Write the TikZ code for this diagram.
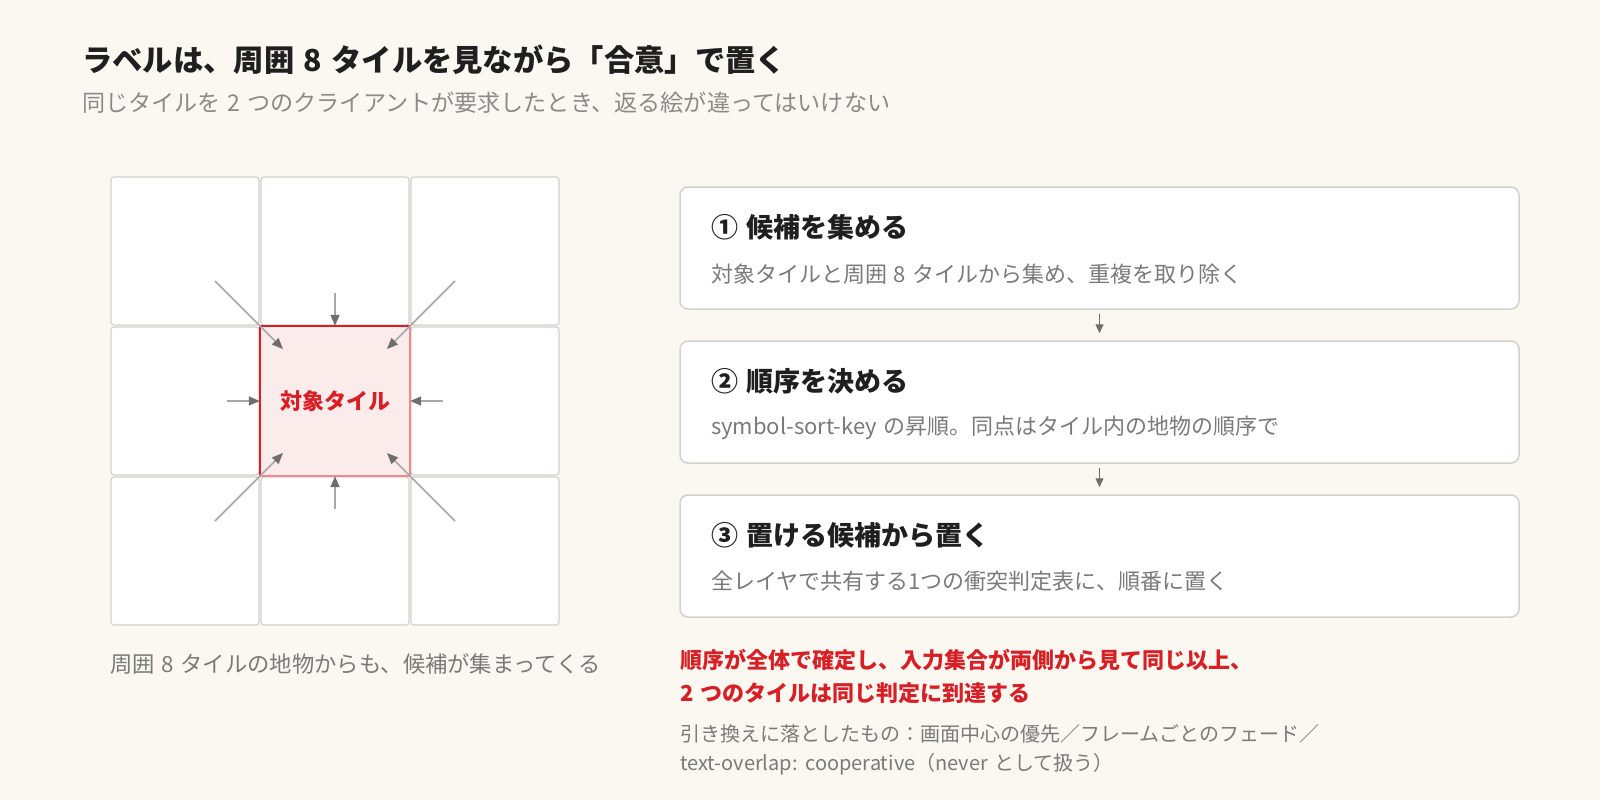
\documentclass[tikz,border=0pt]{standalone}
\usepackage{fontspec}
\setmainfont{Noto Sans CJK JP}[WordSpace=1.35]
\usetikzlibrary{arrows.meta}
\definecolor{bg}{HTML}{FAF8F1}
\definecolor{ink}{HTML}{1F1F1F}
\definecolor{subc}{HTML}{8A8A8A}
\definecolor{descc}{HTML}{7A7A7A}
\definecolor{accent}{HTML}{D91F26}
\definecolor{accentlight}{HTML}{EC8A8E}
\definecolor{pinkfill}{HTML}{FCEBEB}
\definecolor{cellline}{HTML}{D3D1CC}
\definecolor{arrline}{HTML}{A8A8A8}
\definecolor{arrhead}{HTML}{6E6E6E}
\begin{document}
\begin{tikzpicture}[x=1pt,y=-1pt,
  cell/.style={draw=cellline, line width=1.2pt, fill=white, rounded corners=3pt,
    minimum width=148pt, minimum height=148pt, inner sep=0pt},
  target/.style={fill=pinkfill, minimum width=150pt, minimum height=150pt, inner sep=0pt,
    text=accent, font=\fontsize{22}{26}\selectfont\bfseries},
  stepbox/.style={draw=cellline, line width=1.5pt, fill=white, rounded corners=8pt,
    minimum width=839pt, minimum height=122pt, inner sep=0pt},
  inarrow/.style={draw=arrline, line width=1.5pt, -{Triangle[length=11pt,width=9pt,color=arrhead]}},
  flowarrow/.style={draw=arrhead, line width=1.4pt, -{Triangle[length=9pt,width=8pt]},
    shorten <=4pt, shorten >=7pt},
  txt/.style={anchor=west, inner sep=0pt},
  titletxt/.style={txt, text=ink, font=\fontsize{30.3}{36}\selectfont\bfseries},
  subtxt/.style={txt, text=subc, font=\fontsize{23.1}{28}\selectfont},
  steptitle/.style={txt, text=ink, font=\fontsize{27}{32}\selectfont\bfseries},
  stepdesc/.style={txt, text=descc, font=\fontsize{22}{26}\selectfont},
  redtxt/.style={txt, text=accent, font=\fontsize{22}{26}\selectfont\bfseries},
  notetxt/.style={txt, text=descc, font=\fontsize{20}{24}\selectfont}
]
\fill[bg] (0,0) rectangle (1600,800);
\useasboundingbox (0,0) rectangle (1600,800);

% header
\node[titletxt] (title) at (82,60) {ラベルは、周囲 8 タイルを見ながら「合意」で置く};
\node[subtxt] (subtitle) at (82,103) {同じタイルを 2 つのクライアントが要求したとき、返る絵が違ってはいけない};

% grid of tiles
\node[cell] (c11) at (185,251) {};
\node[cell] (c12) at (335,251) {};
\node[cell] (c13) at (485,251) {};
\node[cell] (c21) at (185,401) {};
\node[cell] (c23) at (485,401) {};
\node[cell] (c31) at (185,551) {};
\node[cell] (c32) at (335,551) {};
\node[cell] (c33) at (485,551) {};
\node[target] (ct) at (335,401) {対象タイル};
\draw[accent, line width=2pt] (ct.south west) -- (ct.north west) -- (ct.north east);
\draw[accentlight, line width=1.5pt] (ct.north east) -- (ct.south east) -- (ct.south west);

% incoming arrows
\coordinate (aN) at (335,293);
\coordinate (aS) at (335,509);
\coordinate (aW) at (227,401);
\coordinate (aE) at (443,401);
\coordinate (aNW) at (215,281);
\coordinate (aNE) at (455,281);
\coordinate (aSW) at (215,521);
\coordinate (aSE) at (455,521);
\coordinate (tNW) at (283,349);
\coordinate (tNE) at (387,349);
\coordinate (tSW) at (283,453);
\coordinate (tSE) at (387,453);
\draw[inarrow] (aN) -- (ct.north);
\draw[inarrow] (aS) -- (ct.south);
\draw[inarrow] (aW) -- (ct.west);
\draw[inarrow] (aE) -- (ct.east);
\draw[inarrow] (aNW) -- (tNW);
\draw[inarrow] (aNE) -- (tNE);
\draw[inarrow] (aSW) -- (tSW);
\draw[inarrow] (aSE) -- (tSE);

\node[txt, text=descc, font=\fontsize{22.3}{27}\selectfont] (caption) at (110,664)
  {周囲 8 タイルの地物からも、候補が集まってくる};

% steps
\node[stepbox] (s1) at (1099.5,248) {};
\node[stepbox] (s2) at (1099.5,402) {};
\node[stepbox] (s3) at (1099.5,556) {};
\draw[flowarrow] (s1.south) -- (s2.north);
\draw[flowarrow] (s2.south) -- (s3.north);

\node[steptitle] (s1t) at (711,227) {① 候補を集める};
\node[stepdesc] (s1d) at (711,274) {対象タイルと周囲 8 タイルから集め、重複を取り除く};
\node[steptitle] (s2t) at (711,381) {② 順序を決める};
\node[stepdesc] (s2d) at (711,428) {symbol-sort-key の昇順。同点はタイル内の地物の順序で};
\node[steptitle] (s3t) at (711,535) {③ 置ける候補から置く};
\node[stepdesc] (s3d) at (711,581) {全レイヤで共有する1つの衝突判定表に、順番に置く};

% conclusion
\node[redtxt] (r1) at (680,660) {順序が全体で確定し、入力集合が両側から見て同じ以上、};
\node[redtxt] (r2) at (680,693) {2 つのタイルは同じ判定に到達する};
\node[notetxt] (n1) at (680,734) {引き換えに落としたもの：画面中心の優先／フレームごとのフェード／};
\node[notetxt] (n2) at (680,764) {text-overlap: cooperative（never として扱う）};
\end{tikzpicture}
\end{document}
